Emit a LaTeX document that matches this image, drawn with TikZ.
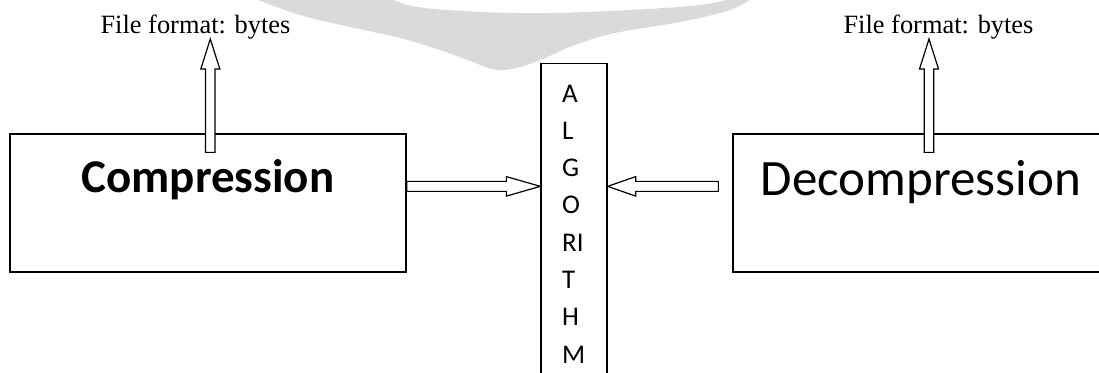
\documentclass[tikz,border=0pt]{standalone}
\usepackage{fontspec}
\setmainfont{Liberation Serif}
\newfontfamily\carl{Carlito}
\usetikzlibrary{calc}
\definecolor{blobgray}{RGB}{218,218,218}
\tikzset{
  panel/.style={draw, line width=1.3pt, inner sep=0pt},
  barrow/.style={draw, fill=white, line width=1.2pt, line join=miter},
  ctext/.style={inner sep=0pt, anchor=base},
  ftext/.style={inner sep=0pt, anchor=base, font=\fontsize{26.4}{28}\selectfont},
  letter/.style={inner sep=0pt, anchor=base west, font=\carl\fontsize{27}{30}\selectfont},
}
\newcommand\blockarr[5]{%
  \path ($(#2)!#5!(#1)$) coordinate (bh);
  \draw[barrow] ($(#1)!#3!90:(#2)$) -- ($(bh)!#3!90:(#2)$) -- ($(bh)!#4!90:(#2)$) -- (#2)
     -- ($(bh)!#4!-90:(#2)$) -- ($(bh)!#3!-90:(#2)$) -- ($(#1)!#3!-90:(#2)$) -- cycle;}
\begin{document}
\begin{tikzpicture}[x=1pt,y=-1pt]
\useasboundingbox (0,0) rectangle (1099,372);
\clip (0,0) rectangle (1099,372);
% grey swoosh
\fill[blobgray] plot[smooth, tension=0.6] coordinates {(253,-2) (300,15) (350,27) (400,38) (440,50) (470,61) (497,70) (520,67) (545,58) (575,45) (615,33) (680,22) (730,10) (752,-2)}
  -- plot[smooth, tension=0.6] coordinates {(733,-2) (700,5) (630,10) (550,13) (483,12) (417,7) (390,-2)} -- cycle;
% boxes
\node[panel, minimum width=396pt, minimum height=138pt] (comp) at (208,203) {};
\node[panel, minimum width=376pt, minimum height=138pt] (decomp) at (921,203) {};
\node[panel, minimum width=66pt, minimum height=340pt, anchor=north] (algo) at (574,63) {};
% texts
\node[ctext, font=\carl\bfseries\fontsize{47}{50}\selectfont] (compt) at (208,192) {Compression};
\node[ctext, font=\carl\fontsize{51}{54}\selectfont] (decompt) at (921,195) {Decompression};
\node[ftext] (fl) at (195.5,33) {File format: bytes};
\node[ftext] (fr) at (938.5,33) {File format: bytes};
\foreach \l [count=\i] in {A,L,G,O,RI,T,H,M}
  \node[letter] (let\i) at (562,{64.7+37.3*\i}) {\l};
% arrow end points
\coordinate (lupS) at ($(comp.north)+(2.3,19)$);
\coordinate (lupE) at ($(fl.base)+(14.8,6)$);
\coordinate (rupS) at ($(decomp.north)+(8,19)$);
\coordinate (rupE) at ($(fr.base)+(-9.5,6)$);
\coordinate (lhS) at ($(comp.north east)+(0,53)$);
\coordinate (lhE) at (algo.west |- lhS);
\coordinate (rhS) at ($(decomp.north west)+(-14,53)$);
\coordinate (rhE) at (algo.east |- rhS);
% block arrows
\blockarr{lupS}{lupE}{4.75pt}{9.5pt}{30pt}
\blockarr{rupS}{rupE}{4.75pt}{9.5pt}{30pt}
\blockarr{lhS}{lhE}{5pt}{9.75pt}{34pt}
\blockarr{rhS}{rhE}{5pt}{9.75pt}{28pt}
\end{tikzpicture}
\end{document}
